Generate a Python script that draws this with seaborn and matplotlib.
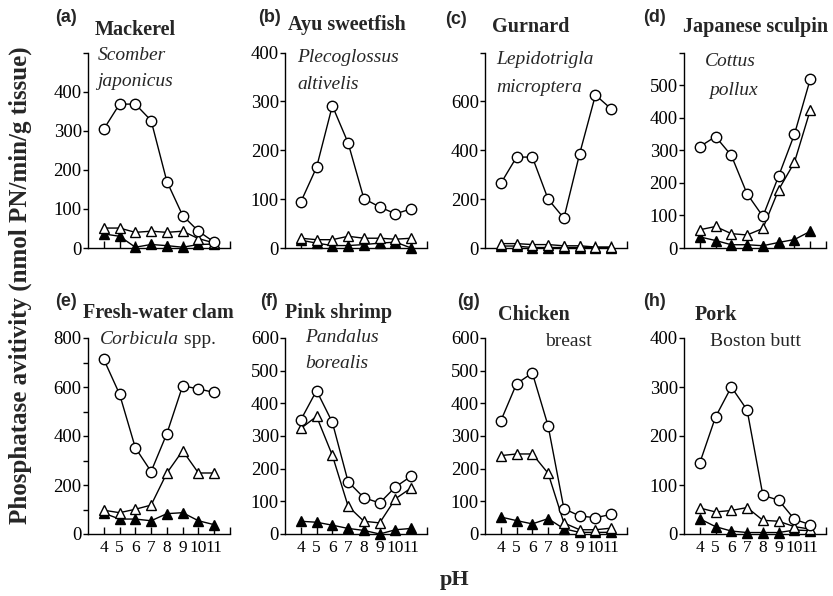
import numpy as np
import pandas as pd
import matplotlib
matplotlib.use("Agg")
import matplotlib.pyplot as plt
import matplotlib.transforms as mtransforms
import seaborn as sns

# ---------------- data ----------------
ph = [4, 5, 6, 7, 8, 9, 10, 11]

panel_labels = ["(a)", "(b)", "(c)", "(d)", "(e)", "(f)", "(g)", "(h)"]
titles = ["Mackerel", "Ayu sweetfish", "Gurnard", "Japanese sculpin",
          "Fresh-water clam", "Pink shrimp", "Chicken", "Pork"]

# open circles
circle_a = [304, 368, 368, 326, 170, 83, 43, 15]
circle_b = [94, 165, 291, 215, 101, 84, 70, 80]
circle_c = [264, 372, 372, 200, 122, 386, 626, 569]
circle_d = [311, 342, 284, 166, 97, 221, 349, 518]
circle_e = [713, 571, 352, 255, 410, 605, 592, 578]
circle_f = [349, 439, 342, 160, 111, 95, 144, 177]
circle_g = [346, 460, 493, 331, 78, 55, 50, 60]
circle_h = [145, 239, 300, 253, 79, 69, 30, 19]

# open triangles
open_tri_a = [51, 51, 40, 43, 40, 43, 24, 13]
open_tri_b = [20, 17, 17, 24, 20, 20, 18, 20]
open_tri_c = [18, 18, 14, 14, 9, 9, 4, 4]
open_tri_d = [56, 66, 44, 40, 60, 179, 263, 423]
open_tri_e = [97, 87, 101, 118, 249, 340, 249, 249]
open_tri_f = [323, 360, 241, 85, 39, 34, 108, 141]
open_tri_g = [240, 245, 245, 186, 34, 13, 13, 18]
open_tri_h = [53, 45, 48, 54, 28, 26, 15, 10]

# filled triangles
filled_tri_a = [36, 30, 2, 9, 6, 2, 9, 10]
filled_tri_b = [16, 10, 5, 5, 7, 10, 12, 0]
filled_tri_c = [8, 8, 2, 2, 2, 2, 2, 2]
filled_tri_d = [34, 23, 10, 10, 7, 17, 26, 51]
filled_tri_e = [85, 61, 61, 54, 83, 87, 54, 38]
filled_tri_f = [39, 36, 27, 17, 11, 0, 13, 17]
filled_tri_g = [52, 41, 31, 47, 16, 5, 5, 5]
filled_tri_h = [31, 15, 6, 3, 3, 3, 8, 7]

circles = [circle_a, circle_b, circle_c, circle_d, circle_e, circle_f, circle_g, circle_h]
open_tris = [open_tri_a, open_tri_b, open_tri_c, open_tri_d,
             open_tri_e, open_tri_f, open_tri_g, open_tri_h]
filled_tris = [filled_tri_a, filled_tri_b, filled_tri_c, filled_tri_d,
               filled_tri_e, filled_tri_f, filled_tri_g, filled_tri_h]

y_max = [500, 400, 800, 600, 800, 600, 600, 400]
y_step = [100, 100, 200, 100, 200, 100, 100, 100]
y_hide_top = [True, False, True, True, False, False, False, False]
y_minor = [None, None, None, None, 100, None, None, None]

x_tick_labels = ["4", "5", "6", "7", "8", "9", "10", "11", ""]

y_label = "Phosphatase avitivity (nmol PN/min/g tissue)"
x_label = "pH"

# ---------------- style ----------------
sns.set_theme(style="ticks")
plt.rcParams["font.family"] = ["Liberation Serif", "DejaVu Serif"]
plt.rcParams.update({
    "axes.linewidth": 1.0,
    "xtick.direction": "in",
    "ytick.direction": "out",
    "xtick.major.size": 5,
    "ytick.major.size": 3.5,
    "ytick.minor.size": 3.5,
    "xtick.major.width": 1.0,
    "ytick.major.width": 1.0,
    "ytick.minor.width": 1.0,
    "xtick.color": "black",
    "ytick.color": "black",
    "axes.edgecolor": "black",
})

W, H = 833, 596
fig = plt.figure(figsize=(W / 100, H / 100), dpi=100)


def rect(l, t, r, b):
    return [l / W, 1 - b / H, (r - l) / W, (b - t) / H]


col_left = [88, 285, 485, 684]
ax_w = 142
row_tb = [(52.5, 248), (338, 534)]

label_pos = [(55, 17), (258, 18), (445, 19), (643, 18),
             (55, 302), (260, 302), (457, 302), (643, 302)]
title_pos = [(95, 30), (288, 25), (492, 27), (683, 27),
             (83, 313), (285, 313), (498, 315), (695, 315)]

TICK_FS = 13.5
XTICK_FS = 12.5
TITLE_FS = 14.5
SPEC_FS = 14

for i in range(8):
    r, c = divmod(i, 4)
    t, b = row_tb[r]
    ax = fig.add_axes(rect(col_left[c], t, col_left[c] + ax_w, b))
    df = pd.DataFrame({"pH": ph, "circle": circles[i],
                       "open": open_tris[i], "filled": filled_tris[i]})
    sns.lineplot(data=df, x="pH", y="filled", ax=ax, color="black", lw=1.0,
                 marker="^", markersize=7.5, markerfacecolor="black",
                 markeredgecolor="black", markeredgewidth=1.0, zorder=3)
    sns.lineplot(data=df, x="pH", y="open", ax=ax, color="black", lw=1.0,
                 marker="^", markersize=7.5, markerfacecolor="white",
                 markeredgecolor="black", markeredgewidth=1.0, zorder=4)
    sns.lineplot(data=df, x="pH", y="circle", ax=ax, color="black", lw=1.0,
                 marker="o", markersize=7.5, markerfacecolor="white",
                 markeredgecolor="black", markeredgewidth=1.0, zorder=5)
    ax.set_xlim(3, 12)
    ax.set_ylim(0, y_max[i])
    for m in ax.lines:
        m.set_clip_on(False)
    sns.despine(ax=ax)
    ax.set_xticks(range(4, 13))
    if r == 1:
        ax.set_xticklabels(x_tick_labels, fontsize=XTICK_FS)
        shifts = {"10": -1.6, "11": 1.6}
        for lab in ax.get_xticklabels():
            dx = shifts.get(lab.get_text())
            if dx:
                lab.set_transform(lab.get_transform() +
                                  mtransforms.ScaledTranslation(dx / 100, 0, fig.dpi_scale_trans))
    else:
        ax.set_xticklabels([])
    ax.tick_params(axis="x", pad=4)
    yt = list(range(0, y_max[i] + 1, y_step[i]))
    ax.set_yticks(yt)
    ylabs = [str(v) for v in yt]
    if y_hide_top[i]:
        ylabs[-1] = ""
    ax.set_yticklabels(ylabs, fontsize=TICK_FS)
    ax.tick_params(axis="y", pad=1)
    if y_minor[i]:
        ax.set_yticks(range(y_minor[i], y_max[i], y_step[i]), minor=True)
    ax.set_xlabel("")
    ax.set_ylabel("")
    ax.set_facecolor("white")

    lx, ly = label_pos[i]
    fig.text(lx / W, 1 - ly / H, panel_labels[i], fontsize=13, fontweight="bold",
             family=["Liberation Sans", "DejaVu Sans"], ha="left", va="center")
    tx, ty = title_pos[i]
    fig.text(tx / W, 1 - ty / H, titles[i], fontsize=TITLE_FS, fontweight="bold",
             ha="left", va="center")


# species / tissue annotations
def ftext(x, y, s, **kw):
    return fig.text(x / W, 1 - y / H, s, fontsize=SPEC_FS, va="center", **kw)


ftext(98, 55, "Scomber", style="italic", ha="left")
ftext(97, 82, "japonicus", style="italic", ha="left")
ftext(297, 58, "Plecoglossus", style="italic", ha="left")
ftext(297, 85, "altivelis", style="italic", ha="left")
ftext(496, 60, "Lepidotrigla", style="italic", ha="left")
ftext(496, 87, "microptera", style="italic", ha="left")
ftext(730, 62, "Cottus", style="italic", ha="center")
ftext(733, 90, "pollux", style="italic", ha="center")
corb = ftext(100, 340, "Corbicula", style="italic", ha="left")
spp = matplotlib.text.Annotation(" spp.", xy=(1, 0), xycoords=corb,
                                 va="bottom", ha="left", fontsize=SPEC_FS)
fig.add_artist(spp)
ftext(305, 338, "Pandalus", style="italic", ha="left")
ftext(305, 363, "borealis", style="italic", ha="left")
ftext(545, 342, "breast", ha="left")
ftext(710, 342, "Boston butt", ha="left")

fig.text(20 / W, 1 - 285 / H, y_label, rotation=90, fontsize=18,
         fontweight="bold", ha="center", va="center")
fig.text(455 / W, 1 - 580 / H, x_label, fontsize=16, fontweight="bold",
         ha="center", va="center")

fig.savefig("out.png", dpi=100, facecolor="white")
